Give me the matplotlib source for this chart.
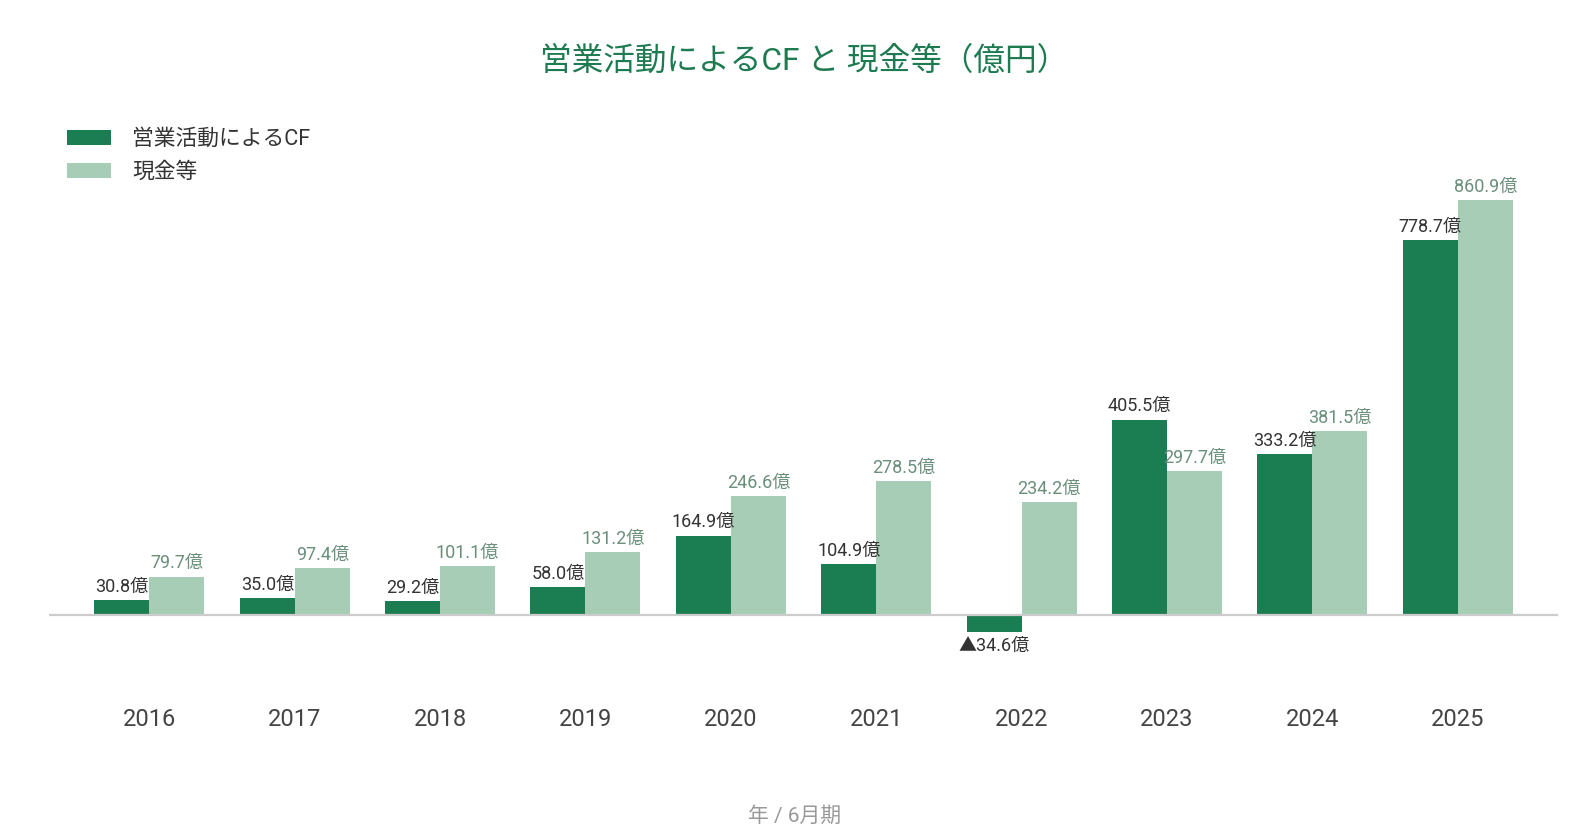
import numpy as np
import matplotlib
matplotlib.use("Agg")
import matplotlib.pyplot as plt

plt.rcParams['font.family'] = ['Roboto', 'Noto Sans CJK JP', 'DejaVu Sans']

years = ["2016", "2017", "2018", "2019", "2020", "2021", "2022", "2023", "2024", "2025"]
cf = [30.8, 35.0, 29.2, 58.0, 164.9, 104.9, -34.6, 405.5, 333.2, 778.7]
cash = [79.7, 97.4, 101.1, 131.2, 246.6, 278.5, 234.2, 297.7, 381.5, 860.9]
series_names = ["営業活動によるCF", "現金等"]

dark = "#1b7d52"
light = "#a8cdb6"

fig = plt.figure(figsize=(15.9, 8.4), dpi=100)
ax = fig.add_axes([49 / 1590, 0.2105, (1558 - 49) / 1590, 0.5738])

x = np.arange(len(years))
w = 0.378
ax.bar(x - w / 2, cf, w, color=dark, label=series_names[0], zorder=2)
ax.bar(x + w / 2, cash, w, color=light, label=series_names[1], zorder=2)
ax.axhline(0, color="#cccccc", lw=1.6, zorder=3)

ax.set_xlim(-0.69, len(years) - 1 + 0.69)
ax.set_ylim(-100, 900)

for xi, v in zip(x, cf):
    if v < 0:
        ax.annotate("▲%.1f億" % abs(v), (xi - w / 2, v), xytext=(0, -4), textcoords="offset points",
                    ha="center", va="top", fontsize=13, color="#333333")
    else:
        ax.annotate("%.1f億" % v, (xi - w / 2, v), xytext=(0, 3), textcoords="offset points",
                    ha="center", va="bottom", fontsize=13, color="#333333")
for xi, v in zip(x, cash):
    ax.annotate("%.1f億" % v, (xi + w / 2, v), xytext=(0, 3), textcoords="offset points",
                ha="center", va="bottom", fontsize=13, color="#6a8f7b")

ax.set_xticks(x)
ax.set_xticklabels(years, fontsize=17, color="#444444")
ax.tick_params(axis="x", length=0, pad=32)
ax.set_yticks([])
for s in ax.spines.values():
    s.set_visible(False)

fig.text(804 / 1590, 1 - 61 / 840, "営業活動によるCF と 現金等（億円）", ha="center", va="center",
         fontsize=22.8, color="#1e7a50")
fig.text(0.5, 1 - 816 / 840, "年 / 6月期", ha="center", va="center", fontsize=15, color="#999999")

fig.legend(loc="upper left", bbox_to_anchor=(67 / 1590, 1 - 129 / 840), frameon=False,
           fontsize=15.7, handlelength=2.0, handleheight=0.65, handletextpad=1.0,
           labelspacing=0.55, borderpad=0, borderaxespad=0, labelcolor="#333333")

fig.savefig("out.png", dpi=100)
